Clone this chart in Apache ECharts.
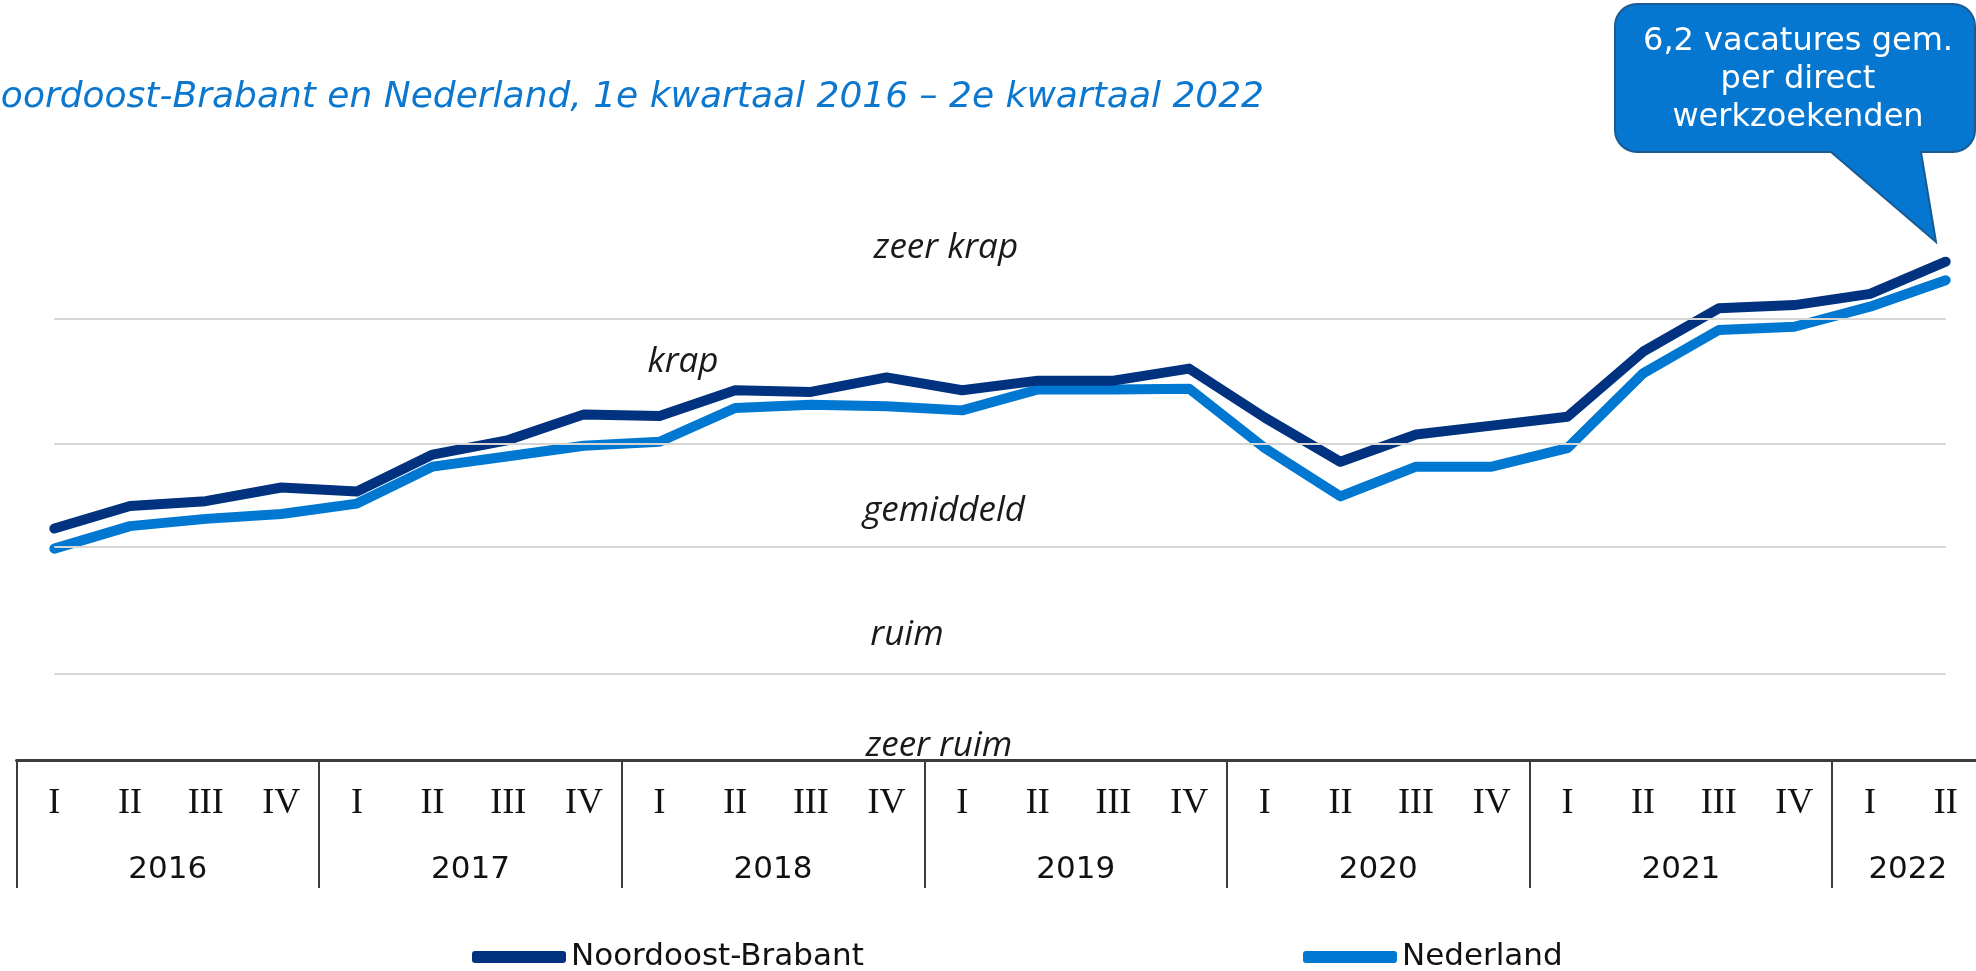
<!DOCTYPE html>
<html>
<head>
<meta charset="utf-8">
<title>Spanningsindicator Noordoost-Brabant en Nederland</title>
<script src="https://cdn.jsdelivr.net/npm/echarts@6/dist/echarts.min.js"></script>
<style>
  html, body { margin: 0; padding: 0; background: #fff; overflow: hidden; }
  /* iets breder dan het venster: de laatste kolom loopt rechts uit beeld */
  #chart { width: 1995px; height: 971px; }
</style>
</head>
<body>
<div id="chart"></div>
<script>
// kwartalen 2016 I t/m 2022 II
var QUARTERS = [
  'I', 'II', 'III', 'IV', 'I', 'II', 'III', 'IV', 'I', 'II', 'III', 'IV',
  'I', 'II', 'III', 'IV', 'I', 'II', 'III', 'IV', 'I', 'II', 'III', 'IV',
  'I', 'II'
];
var YEARS = ['2016', '2017', '2018', '2019', '2020', '2021', '2022'];
// midden van elk jaar, in kwartaal-eenheden
var YEAR_POS = [2, 6, 10, 14, 18, 22, 25];

var NOORDOOST_BRABANT = [
  2.88, 3.16, 3.22, 3.39, 3.34, 3.80, 3.98, 4.30, 4.28, 4.60, 4.58, 4.76,
  4.60, 4.72, 4.72, 4.87, 4.26, 3.71, 4.05, 4.16, 4.27, 5.08, 5.62, 5.66,
  5.80, 6.20
];
var NEDERLAND = [
  2.63, 2.91, 3.00, 3.06, 3.19, 3.65, 3.78, 3.91, 3.96, 4.38, 4.42, 4.40,
  4.35, 4.61, 4.61, 4.62, 3.88, 3.28, 3.65, 3.65, 3.88, 4.81, 5.35, 5.39,
  5.64, 5.97
];

// grenzen tussen de klassen (zeer ruim / ruim / gemiddeld / krap / zeer krap)
var THRESHOLDS = [5.49, 3.94, 2.65, 1.07];
var BAND_LABELS = ['zeer krap', 'krap', 'gemiddeld', 'ruim', 'zeer ruim'];

var chart = echarts.init(document.getElementById('chart'));

var yearLookup = {};
for (var i = 0; i < YEAR_POS.length; i++) {
  yearLookup[YEAR_POS[i]] = YEARS[i];
}

var gridLines = [];
for (var t = 0; t < THRESHOLDS.length; t++) {
  gridLines.push([
    { coord: [0, THRESHOLDS[t]] },
    { coord: [QUARTERS.length - 1, THRESHOLDS[t]] }
  ]);
}

// posities van de klasse-labels (layout)
var bandPos = [
  [946, 248], [683, 362], [944, 511], [907, 635], [939, 746]
];
var bandText = [];
for (var b = 0; b < BAND_LABELS.length; b++) {
  bandText.push({
    type: 'text',
    x: bandPos[b][0],
    y: bandPos[b][1],
    silent: true,
    style: {
      text: BAND_LABELS[b],
      align: 'center',
      verticalAlign: 'middle',
      font: 'italic 35px "Open Sans"',
      fill: '#1a1a1a'
    }
  });
}

var lineStyleBase = { width: 10, cap: 'round', join: 'round' };
var legendText = { fontFamily: 'DejaVu Sans', fontSize: 31, color: '#111', lineHeight: 34 };

var option = {
  animation: false,
  backgroundColor: '#fff',
  grid: { left: 16.5, top: 117, width: 1967, height: 643, containLabel: false },
  legend: [
    {
      data: ['Noordoost-Brabant'],
      left: 467, top: 935,
      icon: 'roundRect', itemWidth: 94, itemHeight: 12,
      textStyle: legendText,
      selectedMode: false
    },
    {
      data: ['Nederland'],
      left: 1298, top: 935,
      icon: 'roundRect', itemWidth: 94, itemHeight: 12,
      textStyle: legendText,
      selectedMode: false
    }
  ],
  xAxis: [
    {
      type: 'category',
      data: QUARTERS,
      position: 'bottom',
      boundaryGap: true,
      axisLine: { show: true, lineStyle: { color: '#3c3c3c', width: 3 } },
      axisTick: {
        show: true,
        length: 128,
        interval: function(index) { return index % 4 === 0; },
        lineStyle: { color: '#3c3c3c', width: 2 }
      },
      axisLabel: {
        interval: 0,
        margin: 26,
        fontFamily: 'Liberation Serif',
        fontSize: 36,
        color: '#111'
      },
      splitLine: { show: false }
    },
    {
      type: 'value',
      min: 0,
      max: QUARTERS.length,
      interval: 1,
      position: 'bottom',
      axisLine: { show: false },
      axisTick: { show: false },
      splitLine: { show: false },
      axisLabel: {
        margin: 94,
        fontFamily: 'DejaVu Sans',
        fontSize: 31,
        color: '#111',
        formatter: function(v) { return yearLookup[v] || ''; }
      }
    }
  ],
  yAxis: {
    type: 'value',
    min: 0,
    max: 8,
    show: false,
    splitLine: { show: false }
  },
  series: [
    {
      name: 'gridlines',
      type: 'line',
      data: [],
      z: 1,
      silent: true,
      markLine: {
        silent: true,
        symbol: ['none', 'none'],
        label: { show: false },
        lineStyle: { color: '#d6d6d6', width: 2, type: 'solid' },
        data: gridLines
      }
    },
    {
      name: 'Nederland',
      type: 'line',
      data: NEDERLAND,
      showSymbol: false,
      z: 2,
      color: '#0078d2',
      lineStyle: Object.assign({ color: '#0078d2' }, lineStyleBase)
    },
    {
      name: 'Noordoost-Brabant',
      type: 'line',
      data: NOORDOOST_BRABANT,
      showSymbol: false,
      z: 3,
      color: '#00327f',
      lineStyle: Object.assign({ color: '#00327f' }, lineStyleBase)
    }
  ],
  graphic: [
    // titel (links afgesneden zoals in het origineel)
    {
      type: 'text',
      x: 1264,
      y: 98,
      silent: true,
      style: {
        text: 'Noordoost-Brabant en Nederland, 1e kwartaal 2016 \u2013 2e kwartaal 2022',
        align: 'right',
        verticalAlign: 'middle',
        font: 'italic 36px "DejaVu Sans"',
        fill: '#0b77cf'
      }
    },
    // tekstballon: punt, kader, en een strook die de naad afdekt
    {
      type: 'polygon',
      shape: { points: [[1817, 140], [1919, 140], [1936, 242]] },
      style: { fill: '#0677d0', stroke: '#195a93', lineWidth: 2 },
      silent: true
    },
    {
      type: 'rect',
      shape: { x: 1615, y: 4, width: 360, height: 148, r: 22 },
      style: { fill: '#0677d0', stroke: '#195a93', lineWidth: 2 },
      silent: true
    },
    {
      type: 'polygon',
      shape: { points: [[1828.5, 148], [1918.8, 148], [1920, 156], [1838, 156]] },
      style: { fill: '#0677d0' },
      silent: true
    },
    {
      type: 'text',
      x: 1798,
      y: 80,
      silent: true,
      style: {
        text: '6,2 vacatures gem.\nper direct\nwerkzoekenden',
        align: 'center',
        verticalAlign: 'middle',
        font: '32px "DejaVu Sans"',
        lineHeight: 38,
        fill: '#ffffff'
      }
    }
  ].concat(bandText)
};

chart.setOption(option);
</script>
</body>
</html>
